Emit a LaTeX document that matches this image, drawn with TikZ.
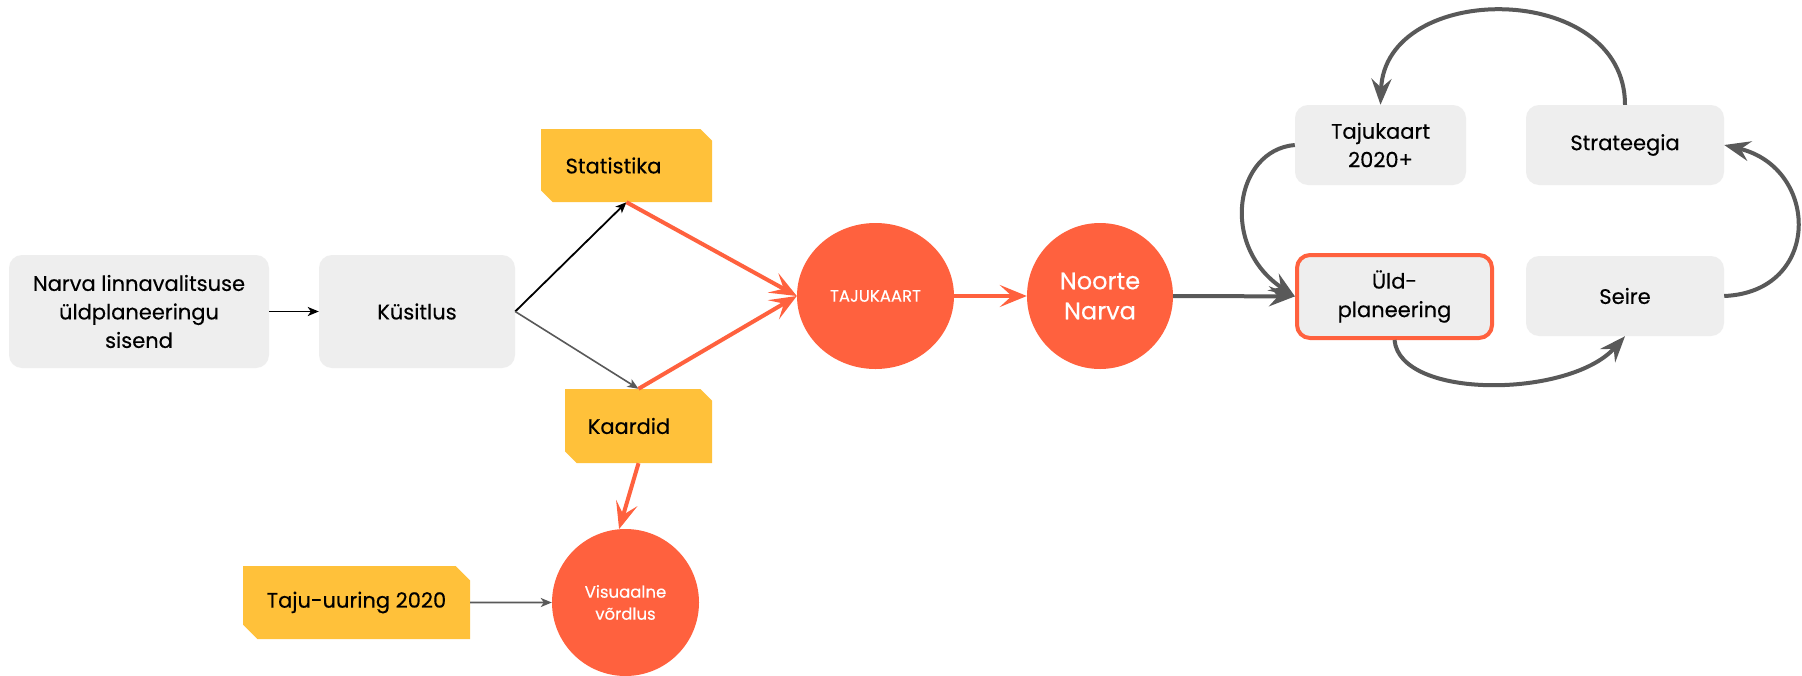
\documentclass[tikz,border=0pt]{standalone}
\usepackage{fontspec}
\setmainfont{Poppins}[FakeBold=0.35]
\usetikzlibrary{arrows.meta,shapes.geometric,shapes.misc}
\definecolor{orng}{HTML}{FF613E}
\definecolor{ylw}{HTML}{FFC13A}
\definecolor{boxgray}{HTML}{EEEEEE}
\definecolor{argray}{HTML}{595959}
\newcommand{\boxf}{\fontsize{21}{28.5}\selectfont}
\newcommand{\midf}{\fontsize{24}{30}\selectfont}
\newcommand{\smallf}{\fontsize{16.5}{22}\selectfont}
\begin{document}
\begin{tikzpicture}[x=1pt,y=-1pt,
  gbox/.style={fill=boxgray, rounded corners=13pt, inner sep=0pt, align=center, font=\boxf, text=black},
  ybox/.style={fill=ylw, chamfered rectangle, chamfered rectangle corners={north east,south west},
     chamfered rectangle xsep=12pt, inner sep=0pt, font=\boxf, text=black},
  ocirc/.style={fill=orng, inner sep=0pt, text=white, align=center},
  thinblk/.style={draw=black, line width=1.8pt, -{Stealth[length=11pt,width=9pt,inset=3pt]}},
  thingry/.style={draw=argray, line width=1.6pt, -{Stealth[length=11pt,width=9pt,inset=3pt]}},
  oline/.style={draw=orng, line width=4pt, -{Stealth[length=27pt,width=22pt,inset=12pt]}},
  gthick/.style={draw=argray, line width=4pt, -{Stealth[length=26pt,width=20pt,inset=9pt]}}
]
\useasboundingbox (0,0) rectangle (1802,675);
\fill[white] (0,0) rectangle (1802,675);

% left part
\node[gbox, minimum width=260pt, minimum height=113pt] (nar) at (139,311.5) {Narva linnavalitsuse\\üldplaneeringu\\sisend};
\node[gbox, minimum width=196pt, minimum height=113pt] (kys) at (417,311.5) {Küsitlus};
\node[ybox, minimum width=171pt, minimum height=73pt] (sta) at (626.5,165.5) {Statistika\hspace*{26pt}};
\node[ybox, minimum width=147pt, minimum height=74pt] (kaa) at (638.5,426) {Kaardid\hspace*{19pt}};
\node[ybox, minimum width=227pt, minimum height=73pt] (tju) at (356.5,602.5) {Taju-uuring 2020};
\node[ocirc, ellipse, minimum width=157pt, minimum height=146pt, font=\smallf] (tkc) at (875.5,296) {TAJUKAART};
\node[ocirc, circle, minimum size=146pt, font=\midf] (noo) at (1100,296) {Noorte\\Narva};
\node[ocirc, circle, minimum size=147pt, font=\smallf] (vis) at (625.5,602.5) {Visuaalne\\võrdlus};

% right part
\node[gbox, minimum width=171pt, minimum height=80pt] (tk2) at (1380.5,145) {Tajukaart\\2020+};
\node[gbox, minimum width=198pt, minimum height=80pt] (str) at (1625,145) {Strateegia};
\node[gbox, draw=orng, line width=4pt, minimum width=195pt, minimum height=83pt] (uld) at (1394.5,296.5) {Üld-\\planeering};
\node[gbox, minimum width=198pt, minimum height=80pt] (sei) at (1625,296) {Seire};

% connectors
\draw[thinblk] (nar) -- (kys);
\draw[thinblk] (kys.east) -- (sta.south);
\draw[thingry] (kys.east) -- (kaa.north);
\draw[oline] (sta.south) -- (tkc.west);
\draw[oline] (kaa.north) -- (tkc.west);
\draw[oline] (tkc) -- (noo);
\draw[oline] (kaa.south) -- (vis.95);
\draw[thingry] (tju) -- (vis);
\draw[gthick] (noo) -- (uld);
\draw[gthick] (tk2.west) .. controls (1235,150) and (1219,246) .. (uld.west);
\draw[gthick] (uld.south) .. controls (1400,400) and (1570,398) .. (sei.south);
\draw[gthick] (sei.east) .. controls (1822,292) and (1820,168) .. (str.east);
\draw[gthick] (str.north) .. controls (1625,-20) and (1385,-20) .. (tk2.north);
\end{tikzpicture}
\end{document}
